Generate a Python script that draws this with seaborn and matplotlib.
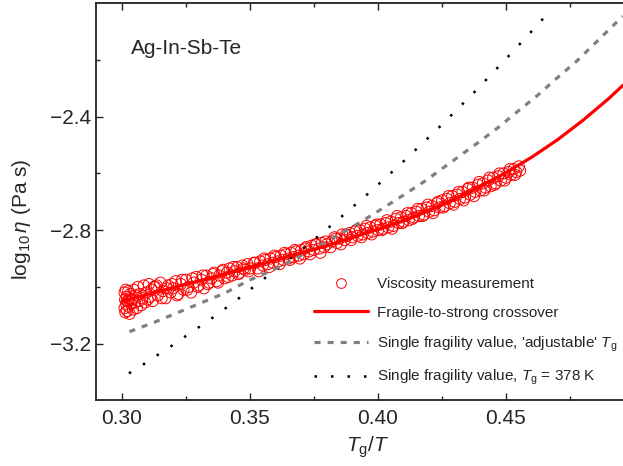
import matplotlib
matplotlib.use("Agg")
import matplotlib.pyplot as plt
from matplotlib.lines import Line2D
import seaborn as sns
import pandas as pd

# ---------------- data ----------------
obs_x = [0.3010, 0.3010, 0.3012, 0.3013, 0.3015, 0.3016, 0.3018, 0.3020, 0.3022, 0.3024,
         0.3026, 0.3028, 0.3030, 0.3033, 0.3036, 0.3040, 0.3043, 0.3046, 0.3050, 0.3054,
         0.3058, 0.3062, 0.3066, 0.3070, 0.3075, 0.3080, 0.3085, 0.3090, 0.3095, 0.3100,
         0.3105, 0.3110, 0.3115, 0.3120, 0.3125,
         0.313, 0.314, 0.315, 0.316, 0.317, 0.318, 0.319, 0.320, 0.321, 0.322,
         0.323, 0.324, 0.325, 0.326, 0.327, 0.328, 0.329, 0.330, 0.331, 0.332,
         0.333, 0.334, 0.335, 0.336, 0.337, 0.338, 0.339, 0.340,
         0.341, 0.342, 0.343, 0.344, 0.345, 0.346, 0.347, 0.348, 0.349, 0.350,
         0.352, 0.353, 0.354, 0.355, 0.356, 0.357, 0.358, 0.359, 0.360, 0.361,
         0.362, 0.363, 0.364, 0.365, 0.366, 0.367, 0.368, 0.369, 0.370, 0.371,
         0.372, 0.373, 0.374, 0.375, 0.376, 0.377, 0.378, 0.379, 0.380, 0.382,
         0.383, 0.384, 0.385, 0.386, 0.387, 0.388, 0.389, 0.390, 0.391, 0.392,
         0.393, 0.394, 0.395, 0.396, 0.397, 0.398, 0.399, 0.400,
         0.401, 0.402, 0.403, 0.404, 0.405, 0.406, 0.407, 0.408, 0.409, 0.410,
         0.411, 0.412, 0.413, 0.414, 0.415, 0.416, 0.417, 0.418, 0.419, 0.420,
         0.421, 0.422, 0.423, 0.424, 0.425, 0.426, 0.427, 0.428, 0.429, 0.430,
         0.431, 0.432, 0.433, 0.434, 0.435, 0.436, 0.437, 0.438, 0.439, 0.440,
         0.441, 0.442, 0.443, 0.444, 0.445, 0.446, 0.447, 0.448, 0.449, 0.450,
         0.451, 0.452, 0.453, 0.454, 0.455, 0.4555,
         0.3135, 0.3155, 0.3175, 0.3195, 0.3215, 0.3235, 0.3255, 0.3275, 0.3295, 0.3315,
         0.3335, 0.3355, 0.3375, 0.3395, 0.3415, 0.3435, 0.3455, 0.3475, 0.3495, 0.3515,
         0.3535, 0.3555, 0.3575, 0.3595, 0.3615, 0.3635, 0.3655, 0.3675, 0.3695, 0.3715,
         0.3735, 0.3755, 0.3775, 0.3795, 0.3815, 0.3835, 0.3855, 0.3875, 0.3895, 0.3915,
         0.3935, 0.3955, 0.3975, 0.3995, 0.4015, 0.4035, 0.4055, 0.4075, 0.4095, 0.4115,
         0.4135, 0.4155, 0.4175, 0.4195, 0.4215, 0.4235, 0.4255, 0.4275, 0.4295, 0.4315,
         0.4335, 0.4355, 0.4375, 0.4395, 0.4415, 0.4435, 0.4455, 0.4475, 0.4495, 0.4515,
         0.4535]
obs_y = [-3.020, -3.075, -3.045, -3.090, -3.010, -3.060, -3.035, -3.085, -3.050, -3.015,
         -3.070, -3.040, -3.095, -3.025, -3.060, -3.045, -3.080, -3.010, -3.055, -3.030,
         -3.075, -3.000, -3.050, -3.025, -3.065, -3.040, -2.995, -3.055, -3.020, -3.045,
         -2.990, -3.035, -3.010, -3.050, -3.000,
         -3.000, -3.030, -2.985, -3.015, -3.040, -2.995, -3.020, -3.005, -2.980, -3.025,
         -2.990, -3.010, -2.975, -3.000, -3.020, -2.985, -2.965, -2.995, -2.975, -3.005,
         -2.960, -2.985, -2.970, -2.950, -2.980, -2.960, -2.945, -2.970,
         -2.950, -2.935, -2.960, -2.945, -2.930, -2.950, -2.925, -2.940, -2.920, -2.935,
         -2.915, -2.935, -2.910, -2.925, -2.905, -2.920, -2.900, -2.915, -2.895, -2.910,
         -2.890, -2.905, -2.885, -2.900, -2.880, -2.895, -2.875, -2.890, -2.870, -2.885,
         -2.860, -2.875, -2.855, -2.870, -2.850, -2.865, -2.845, -2.860, -2.850, -2.840,
         -2.825, -2.845, -2.830, -2.815, -2.835, -2.820, -2.810, -2.825, -2.805, -2.820,
         -2.800, -2.815, -2.795, -2.810, -2.790, -2.805, -2.785, -2.800,
         -2.780, -2.795, -2.775, -2.790, -2.770, -2.785, -2.760, -2.775, -2.755, -2.770,
         -2.750, -2.765, -2.740, -2.755, -2.735, -2.750, -2.725, -2.745, -2.720, -2.735,
         -2.715, -2.730, -2.705, -2.720, -2.695, -2.715, -2.690, -2.705, -2.680, -2.700,
         -2.675, -2.690, -2.665, -2.685, -2.655, -2.675, -2.650, -2.665, -2.640, -2.660,
         -2.635, -2.650, -2.625, -2.645, -2.615, -2.635, -2.610, -2.625, -2.600, -2.615,
         -2.595, -2.605, -2.585, -2.595, -2.575, -2.590,
         -2.995, -3.040, -3.005, -2.990, -3.030, -2.975, -3.010, -2.970, -3.000, -2.960,
         -2.990, -2.955, -2.985, -2.940, -2.965, -2.930, -2.955, -2.935, -2.945, -2.915,
         -2.945, -2.900, -2.930, -2.890, -2.920, -2.880, -2.905, -2.870, -2.900, -2.865,
         -2.885, -2.850, -2.880, -2.840, -2.860, -2.830, -2.850, -2.815, -2.835, -2.800,
         -2.825, -2.785, -2.815, -2.780, -2.800, -2.765, -2.795, -2.750, -2.775, -2.740,
         -2.760, -2.725, -2.750, -2.710, -2.740, -2.700, -2.720, -2.680, -2.710, -2.665,
         -2.695, -2.650, -2.680, -2.630, -2.660, -2.615, -2.640, -2.600, -2.625, -2.585,
         -2.605]

fsc_x = [0.300, 0.320, 0.340, 0.360, 0.380, 0.400, 0.410, 0.420, 0.430, 0.440,
         0.450, 0.460, 0.470, 0.480, 0.490, 0.4957]
fsc_y = [-3.050, -3.003, -2.955, -2.905, -2.855, -2.797, -2.766, -2.730, -2.690, -2.645,
         -2.597, -2.543, -2.482, -2.413, -2.337, -2.289]

adj_x = [0.3029, 0.3126, 0.3220, 0.3307, 0.3402, 0.3493, 0.3579, 0.3667, 0.3754, 0.3841,
         0.3929, 0.4015, 0.4100, 0.4185, 0.4307, 0.4390, 0.4468, 0.4546, 0.4624, 0.4700,
         0.4776, 0.4848, 0.4919, 0.4956]
adj_y = [-3.158, -3.125, -3.090, -3.057, -3.022, -2.978, -2.945, -2.905, -2.862, -2.819,
         -2.773, -2.725, -2.676, -2.626, -2.546, -2.492, -2.439, -2.381, -2.324, -2.263,
         -2.204, -2.141, -2.078, -2.046]

fix_x = [0.3027, 0.3081, 0.3134, 0.3186, 0.3240, 0.3294, 0.3349, 0.3402, 0.3454, 0.3561,
         0.3613, 0.3664, 0.3715, 0.3766, 0.3816, 0.3867, 0.3918, 0.3968, 0.4017, 0.4064,
         0.4112, 0.4157, 0.4206, 0.4253, 0.4298, 0.4347, 0.4393, 0.4438, 0.4483, 0.4526,
         0.4572, 0.4616, 0.4659]
fix_y = [-3.305, -3.275, -3.243, -3.213, -3.179, -3.146, -3.112, -3.077, -3.042, -2.967,
         -2.931, -2.895, -2.859, -2.822, -2.784, -2.745, -2.705, -2.666, -2.626, -2.587,
         -2.547, -2.508, -2.466, -2.425, -2.384, -2.340, -2.298, -2.255, -2.212, -2.171,
         -2.126, -2.083, -2.040]

x_ticks = [0.30, 0.35, 0.40, 0.45]
y_ticks = [-3.2, -2.8, -2.4]
legend_labels = ["Viscosity measurement",
                 "Fragile-to-strong crossover",
                 r"Single fragility value, 'adjustable' $T_{\mathrm{g}}$",
                 r"Single fragility value, $T_{\mathrm{g}}$ = 378 K"]

# ---------------- style ----------------
sns.set_theme(style="ticks")
plt.rcParams["font.family"] = ["Liberation Sans", "DejaVu Sans"]
plt.rcParams["mathtext.fontset"] = "custom"
plt.rcParams["mathtext.rm"] = "Liberation Sans"
plt.rcParams["mathtext.it"] = "Liberation Sans:italic"
plt.rcParams["mathtext.bf"] = "Liberation Sans:bold"
plt.rcParams["axes.unicode_minus"] = True

fig = plt.figure(figsize=(6.23, 4.66), dpi=100)
ax = fig.add_axes([96.4 / 623, 1 - 400.3 / 466, 537.6 / 623, 397.0 / 466])

obs = pd.DataFrame({"x": obs_x, "y": obs_y})
sns.scatterplot(data=obs, x="x", y="y", ax=ax, marker="o", s=64,
                facecolors="none", edgecolor="#ff0000", linewidth=0.7, zorder=2)

sns.lineplot(x=fix_x, y=fix_y, ax=ax, color="black", lw=1.8, sort=False,
             errorbar=None, zorder=3)
ax.lines[-1].set_dashes((1.0, 5.6))
sns.lineplot(x=adj_x, y=adj_y, ax=ax, color="#808080", lw=2.3, sort=False,
             errorbar=None, zorder=3)
ax.lines[-1].set_dashes((1.9, 2.2))
sns.lineplot(x=fsc_x, y=fsc_y, ax=ax, color="#ff0000", lw=2.3, sort=False,
             errorbar=None, zorder=4)

ax.set_xlim(0.29, 0.50)
ax.set_ylim(-3.4, -2.0)
ax.set_xticks(x_ticks)
ax.set_xticklabels([f"{v:.2f}" for v in x_ticks])
ax.set_yticks(y_ticks)
ax.set_yticklabels([f"\u2212{abs(v):.1f}" for v in y_ticks])
ax.set_xticks([0.325, 0.375, 0.425, 0.475], minor=True)
ax.set_yticks([-3.0, -2.6, -2.2], minor=True)

ax.tick_params(which="both", direction="in", top=True, right=False,
               labelsize=15, width=1.0, color="#222222")
ax.tick_params(which="major", length=5)
ax.tick_params(which="minor", length=2.6)
ax.tick_params(axis="x", which="major", pad=6)
ax.tick_params(axis="y", which="major", pad=4)

for side in ["left", "bottom", "top"]:
    ax.spines[side].set_linewidth(1.3)
    ax.spines[side].set_color("#222222")
ax.spines["right"].set_visible(False)

ax.set_xlabel(r"$T_{\mathrm{g}}/T$", fontsize=15)
ax.set_ylabel(r"log$_{10}\,\mathit{\eta}$ (Pa s)", fontsize=15)
ax.xaxis.set_label_coords(0.505, -0.085)
ax.yaxis.set_label_coords(-0.118, 0.455)

ax.text(0.3034, -2.179, "Ag-In-Sb-Te", fontsize=15, va="baseline", ha="left")

handles = [
    Line2D([], [], ls="none", marker="o", markersize=7, markerfacecolor="none",
           markeredgecolor="#ff0000", markeredgewidth=0.7),
    Line2D([], [], color="#ff0000", lw=2.3),
    Line2D([], [], color="#808080", lw=2.3, dashes=(1.9, 2.2)),
    Line2D([], [], color="black", lw=1.8, dashes=(1.0, 5.6)),
]
ax.legend(handles, legend_labels, loc="upper left", bbox_to_anchor=(0.405, 0.310),
          frameon=False, fontsize=11, borderpad=0, borderaxespad=0,
          handlelength=3.5, handletextpad=0.6, labelspacing=0.95)

fig.savefig("out.png", dpi=100)
